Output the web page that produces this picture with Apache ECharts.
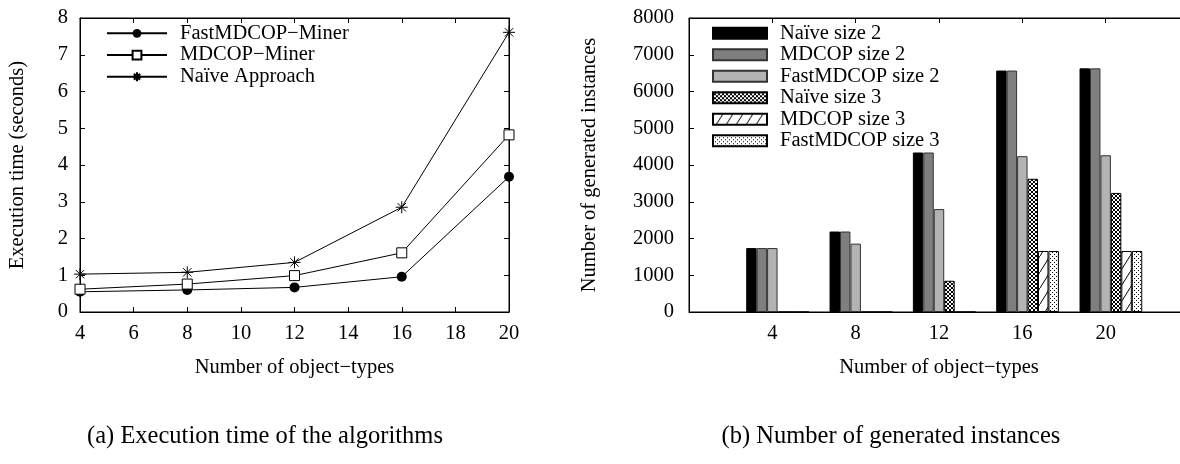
<!DOCTYPE html>
<html><head><meta charset="utf-8">
<script src="https://cdn.jsdelivr.net/npm/echarts@6/dist/echarts.min.js"></script>
<style>html,body{margin:0;padding:0;background:#fff}#c{width:1180px;height:464px}</style>
</head><body><div id="c"></div>
<script>
// ---- data: left chart (execution time) ----
const objectTypes = [4, 8, 12, 16, 20];
const timeFastMDCOP = [0.55, 0.60, 0.67, 0.96, 3.68];
const timeMDCOP = [0.62, 0.76, 0.99, 1.61, 4.82];
const timeNaive = [1.03, 1.08, 1.35, 2.85, 7.61];
const lineNames = ['FastMDCOP\u2212Miner', 'MDCOP\u2212Miner', 'Na\u00efve Approach'];

// ---- data: right chart (generated instances) ----
const instCategories = ['4', '8', '12', '16', '20'];
const naiveSize2 = [1740, 2190, 4340, 6570, 6630];
const mdcopSize2 = [1740, 2190, 4340, 6570, 6630];
const fastSize2 = [1740, 1860, 2800, 4240, 4265];
const naiveSize3 = [0, 0, 850, 3625, 3240];
const mdcopSize3 = [0, 0, 0, 1660, 1660];
const fastSize3 = [0, 0, 0, 1660, 1660];
const barNames = ['Na\u00efve size 2', 'MDCOP size 2', 'FastMDCOP size 2', 'Na\u00efve size 3', 'MDCOP size 3', 'FastMDCOP size 3'];

const captions = ['(a) Execution time of the algorithms', '(b) Number of generated instances'];

const FONT = '"Liberation Serif","Times New Roman","DejaVu Serif",serif';
const FS = 20.5;
const txt = {color: '#000', fontFamily: FONT, fontSize: FS};

function pattern(w, h, draw) {
  const c = document.createElement('canvas');
  c.width = w; c.height = h;
  const ctx = c.getContext('2d');
  ctx.fillStyle = '#fff'; ctx.fillRect(0, 0, w, h);
  ctx.fillStyle = '#000'; ctx.strokeStyle = '#000';
  draw(ctx);
  return {image: c, repeat: 'repeat'};
}
const crossPat = pattern(4, 4, ctx => {
  for (let i = 0; i < 4; i++) { ctx.fillRect(i, i, 1, 1); ctx.fillRect(3 - i, i, 1, 1); }
});
const slashPat = pattern(10, 16, ctx => {
  ctx.lineWidth = 1; ctx.beginPath(); ctx.moveTo(0, 16); ctx.lineTo(10, 0); ctx.stroke();
});
const dotPat = pattern(4, 4, ctx => { ctx.fillRect(0, 0, 1, 1); ctx.fillRect(2, 2, 1, 1); });

const pad = arr => [null].concat(arr, [null]);
const lineData = arr => objectTypes.map((x, i) => [x, arr[i]]);

const axLine = {show: true, onZero: false, lineStyle: {color: '#000', width: 1}};
const tickIn = {show: true, inside: true, length: 5, lineStyle: {color: '#000', width: 1}};
const plain = v => String(v);

const asterisk = 'path://M0,5L10,5M5,0L5,10M1.5,1.5L8.5,8.5M1.5,8.5L8.5,1.5';

const barColors = [
  {fill: '#000000', border: '#000'},
  {fill: '#7f7f7f', border: '#333'},
  {fill: '#b3b3b3', border: '#333'},
  {fill: crossPat, border: '#000'},
  {fill: slashPat, border: '#000'},
  {fill: dotPat, border: '#000'}
];
const barValues = [naiveSize2, mdcopSize2, fastSize2, naiveSize3, mdcopSize3, fastSize3];
const BW = 10.45;

const series = [
  {name: lineNames[0], type: 'line', xAxisIndex: 0, yAxisIndex: 0, data: lineData(timeFastMDCOP),
   symbol: 'circle', symbolSize: 10, lineStyle: {color: '#000', width: 1},
   itemStyle: {color: '#000'}},
  {name: lineNames[1], type: 'line', xAxisIndex: 0, yAxisIndex: 0, data: lineData(timeMDCOP),
   symbol: 'rect', symbolSize: 10, lineStyle: {color: '#000', width: 1},
   itemStyle: {color: '#fff', borderColor: '#000', borderWidth: 1}},
  {name: lineNames[2], type: 'line', xAxisIndex: 0, yAxisIndex: 0, data: lineData(timeNaive),
   symbol: asterisk, symbolSize: 12, lineStyle: {color: '#000', width: 1},
   itemStyle: {color: '#000', borderColor: '#000', borderWidth: 1}},
  {name: '_spacer', type: 'bar', xAxisIndex: 2, yAxisIndex: 2, data: pad(naiveSize2.map(() => null)),
   barWidth: BW, barGap: '0%', itemStyle: {color: 'rgba(0,0,0,0)'}}
];
barNames.forEach((n, i) => {
  series.push({name: n, type: 'bar', xAxisIndex: 2, yAxisIndex: 2, data: pad(barValues[i]),
    barWidth: BW, barGap: '0%',
    itemStyle: {color: barColors[i].fill, borderColor: barColors[i].border, borderWidth: 1}});
});

const option = {
  animation: false,
  backgroundColor: '#fff',
  textStyle: {fontFamily: FONT},
  grid: [
    {left: 80, top: 18, width: 429, height: 294, containLabel: false, outerBoundsMode: 'none',
     show: true, borderColor: '#000', borderWidth: 1, backgroundColor: 'transparent'},
    {left: 689, top: 18, width: 500, height: 294, containLabel: false, outerBoundsMode: 'none',
     show: true, borderColor: '#000', borderWidth: 1, backgroundColor: 'transparent'}
  ],
  legend: [
    {data: lineNames, orient: 'vertical', left: 106, top: 22.5, padding: 0, itemGap: 0,
     itemWidth: 60, itemHeight: 11, selectedMode: false,
     textStyle: Object.assign({}, txt, {lineHeight: 21.7, padding: [0, 0, 0, 8]})},
    {data: barNames, orient: 'vertical', left: 712, top: 22.5, padding: 0, itemGap: 0,
     itemWidth: 54, itemHeight: 11, icon: 'rect', selectedMode: false,
     textStyle: Object.assign({}, txt, {lineHeight: 21.5, padding: [0, 0, 0, 8]})}
  ],
  xAxis: [
    {type: 'value', gridIndex: 0, min: 4, max: 20, interval: 2, position: 'bottom',
     axisLine: axLine, axisTick: tickIn, splitLine: {show: false},
     axisLabel: Object.assign({}, txt, {margin: 11, formatter: plain}),
     name: 'Number of object\u2212types', nameLocation: 'middle', nameGap: 45, nameTextStyle: txt},
    {type: 'value', gridIndex: 0, min: 4, max: 20, interval: 2, position: 'top',
     axisLine: axLine, axisTick: tickIn, splitLine: {show: false}, axisLabel: {show: false}},
    {type: 'category', gridIndex: 1, data: pad(instCategories).map(v => v === null ? '' : v),
     boundaryGap: false, position: 'bottom',
     axisLine: axLine, axisTick: Object.assign({}, tickIn, {interval: 0}), splitLine: {show: false},
     axisLabel: Object.assign({}, txt, {margin: 11, interval: 0}),
     name: 'Number of object\u2212types', nameLocation: 'middle', nameGap: 45, nameTextStyle: txt},
    {type: 'category', gridIndex: 1, data: pad(instCategories).map(v => v === null ? '' : v),
     boundaryGap: false, position: 'top',
     axisLine: axLine, axisTick: Object.assign({}, tickIn, {interval: 0}), splitLine: {show: false},
     axisLabel: {show: false}}
  ],
  yAxis: [
    {type: 'value', gridIndex: 0, min: 0, max: 8, interval: 1, position: 'left',
     axisLine: axLine, axisTick: tickIn, splitLine: {show: false},
     axisLabel: Object.assign({}, txt, {margin: 12, formatter: plain}),
     name: 'Execution time (seconds)', nameLocation: 'middle', nameGap: 52, nameTextStyle: txt},
    {type: 'value', gridIndex: 0, min: 0, max: 8, interval: 1, position: 'right',
     axisLine: axLine, axisTick: tickIn, splitLine: {show: false}, axisLabel: {show: false}},
    {type: 'value', gridIndex: 1, min: 0, max: 8000, interval: 1000, position: 'left',
     axisLine: axLine, axisTick: tickIn, splitLine: {show: false},
     axisLabel: Object.assign({}, txt, {margin: 15, formatter: plain}),
     name: 'Number of generated instances', nameLocation: 'middle', nameGap: 89, nameTextStyle: txt}
  ],
  graphic: [
    {type: 'text', x: 265, y: 437, style: {text: captions[0], fill: '#000', font: '24.5px ' + FONT, textAlign: 'center', textVerticalAlign: 'middle'}},
    {type: 'text', x: 891, y: 437, style: {text: captions[1], fill: '#000', font: '24.5px ' + FONT, textAlign: 'center', textVerticalAlign: 'middle'}}
  ],
  series: series
};

const chart = echarts.init(document.getElementById('c'), null, {renderer: 'canvas'});
chart.setOption(option);
</script>
</body></html>
